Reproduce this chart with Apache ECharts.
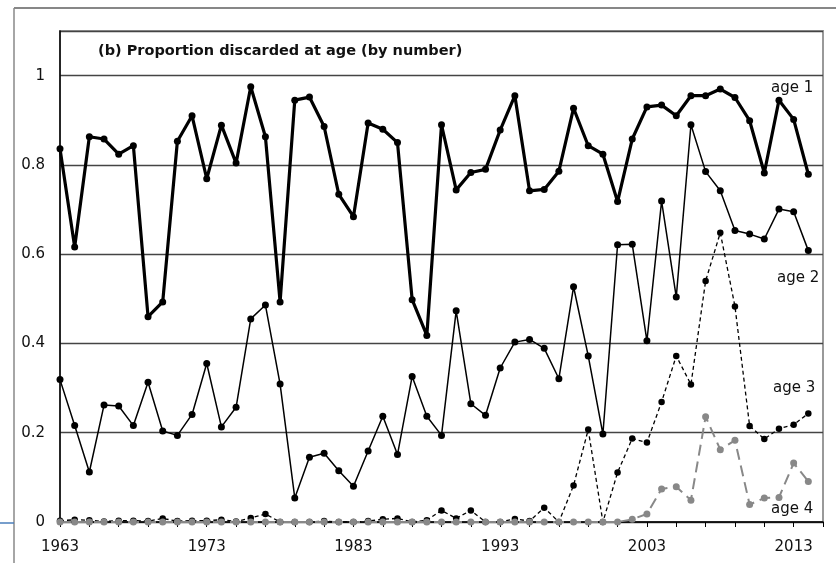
<!DOCTYPE html>
<html>
<head>
<meta charset="utf-8">
<script src="https://cdn.jsdelivr.net/npm/echarts@6/dist/echarts.min.js"></script>
<style>
  html, body { margin: 0; padding: 0; background: #fff; }
  #chart { width: 836px; height: 563px; }
</style>
</head>
<body>
<div id="chart"></div>
<script>
// years on the axis (axis runs one year past the data)
var years = [];
for (var y = 1963; y <= 2015; y++) years.push(String(y));

// proportion discarded, 1963-2014
var age1 = [0.836,0.616,0.863,0.858,0.824,0.843,0.460,0.493,0.853,0.910,
            0.769,0.889,0.804,0.975,0.863,0.493,0.945,0.952,0.886,0.734,
            0.684,0.894,0.880,0.850,0.498,0.418,0.890,0.744,0.783,0.790,
            0.878,0.955,0.742,0.745,0.786,0.927,0.843,0.824,0.718,0.858,
            0.930,0.934,0.910,0.955,0.955,0.970,0.951,0.899,0.782,0.945,
            0.902,0.779];
var age2 = [0.319,0.216,0.112,0.262,0.260,0.216,0.313,0.204,0.194,0.241,
            0.355,0.213,0.257,0.455,0.486,0.309,0.054,0.145,0.154,0.115,
            0.080,0.159,0.237,0.151,0.326,0.237,0.194,0.473,0.265,0.239,
            0.345,0.403,0.409,0.389,0.321,0.527,0.372,0.197,0.621,0.622,
            0.406,0.719,0.504,0.890,0.785,0.742,0.653,0.645,0.634,0.701,
            0.695,0.608];
var age3 = [0.003,0.005,0.004,0.001,0.003,0.003,0.002,0.008,0.002,0.003,
            0.003,0.005,0.001,0.009,0.018,0.000,0.000,0.000,0.002,0.000,
            0.000,0.002,0.006,0.008,0.000,0.004,0.026,0.008,0.026,0.000,
            0.000,0.007,0.002,0.032,0.000,0.082,0.207,0.000,0.111,0.187,
            0.178,0.269,0.372,0.308,0.540,0.648,0.483,0.215,0.186,0.209,
            0.218,0.243];
var age4 = [0,0,0,0,0,0,0,0,0,0,
            0,0,0,0,0,0,0,0,0,0,
            0,0,0,0,0,0,0,0,0,0,
            0,0,0,0,0,0,0,0,0,0.006,
            0.018,0.074,0.079,0.049,0.236,0.162,0.183,0.039,0.054,0.055,
            0.132,0.091];

var labelFont = 'DejaVu Sans';

var chart = echarts.init(document.getElementById('chart'));

var option = {
    animation: false,
    grid: {
        left: 60, right: 13, top: 31, bottom: 41,
        show: true,
        borderColor: '#999',
        borderWidth: 2
    },
    xAxis: {
        type: 'category',
        data: years,
        boundaryGap: false,
        axisLine: { lineStyle: { color: '#000', width: 1.5 } },
        axisTick: { interval: 1, length: 5, lineStyle: { color: '#000' } },
        axisLabel: {
            interval: 9,
            margin: 18,
            color: '#111',
            fontSize: 15,
            fontFamily: labelFont
        },
        splitLine: { show: false }
    },
    yAxis: {
        type: 'value',
        min: 0,
        max: 1.1,
        interval: 0.2,
        axisLine: { show: true, lineStyle: { color: '#000', width: 1.5 } },
        axisTick: { show: false },
        axisLabel: {
            margin: 15,
            color: '#111',
            fontSize: 15,
            fontFamily: labelFont,
            formatter: function (v) {
                if (v > 1.05) return '';
                return String(Math.round(v * 10) / 10);
            }
        },
        splitLine: { lineStyle: { color: '#444', width: 1.3 } }
    },
    series: [
        {
            name: 'age 1',
            type: 'line',
            data: age1,
            symbol: 'circle',
            symbolSize: 7,
            lineStyle: { color: '#000', width: 3.2 },
            itemStyle: { color: '#000' }
        },
        {
            name: 'age 2',
            type: 'line',
            data: age2,
            symbol: 'circle',
            symbolSize: 7,
            lineStyle: { color: '#000', width: 1.5 },
            itemStyle: { color: '#000' }
        },
        {
            name: 'age 3',
            type: 'line',
            data: age3,
            symbol: 'circle',
            symbolSize: 6.5,
            lineStyle: { color: '#000', width: 1.3, type: [4, 3] },
            itemStyle: { color: '#000' }
        },
        {
            name: 'age 4',
            type: 'line',
            data: age4,
            symbol: 'circle',
            symbolSize: 7,
            lineStyle: { color: '#888', width: 2, type: [11, 6] },
            itemStyle: { color: '#888' }
        }
    ],
    graphic: [
        // outer frame pieces
        { type: 'line', shape: { x1: 14, y1: 8, x2: 836, y2: 8 }, style: { stroke: '#111', lineWidth: 1.2 } },
        { type: 'line', shape: { x1: 14, y1: 8, x2: 14, y2: 563 }, style: { stroke: '#888', lineWidth: 1.5 } },
        { type: 'line', shape: { x1: 0, y1: 523, x2: 14, y2: 523 }, style: { stroke: '#4a7ebb', lineWidth: 1.5 } },
        // title and series labels
        { type: 'text', left: 98, top: 44, style: { text: '(b) Proportion discarded at age (by number)', font: 'bold 14.5px "DejaVu Sans"', fill: '#111' } },
        { type: 'text', left: 771, top: 81, style: { text: 'age 1', font: '15px "DejaVu Sans"', fill: '#111' } },
        { type: 'text', left: 777, top: 271, style: { text: 'age 2', font: '15px "DejaVu Sans"', fill: '#111' } },
        { type: 'text', left: 773, top: 381, style: { text: 'age 3', font: '15px "DejaVu Sans"', fill: '#111' } },
        { type: 'text', left: 771, top: 502, style: { text: 'age 4', font: '15px "DejaVu Sans"', fill: '#111' } }
    ]
};

chart.setOption(option);
</script>
</body>
</html>
